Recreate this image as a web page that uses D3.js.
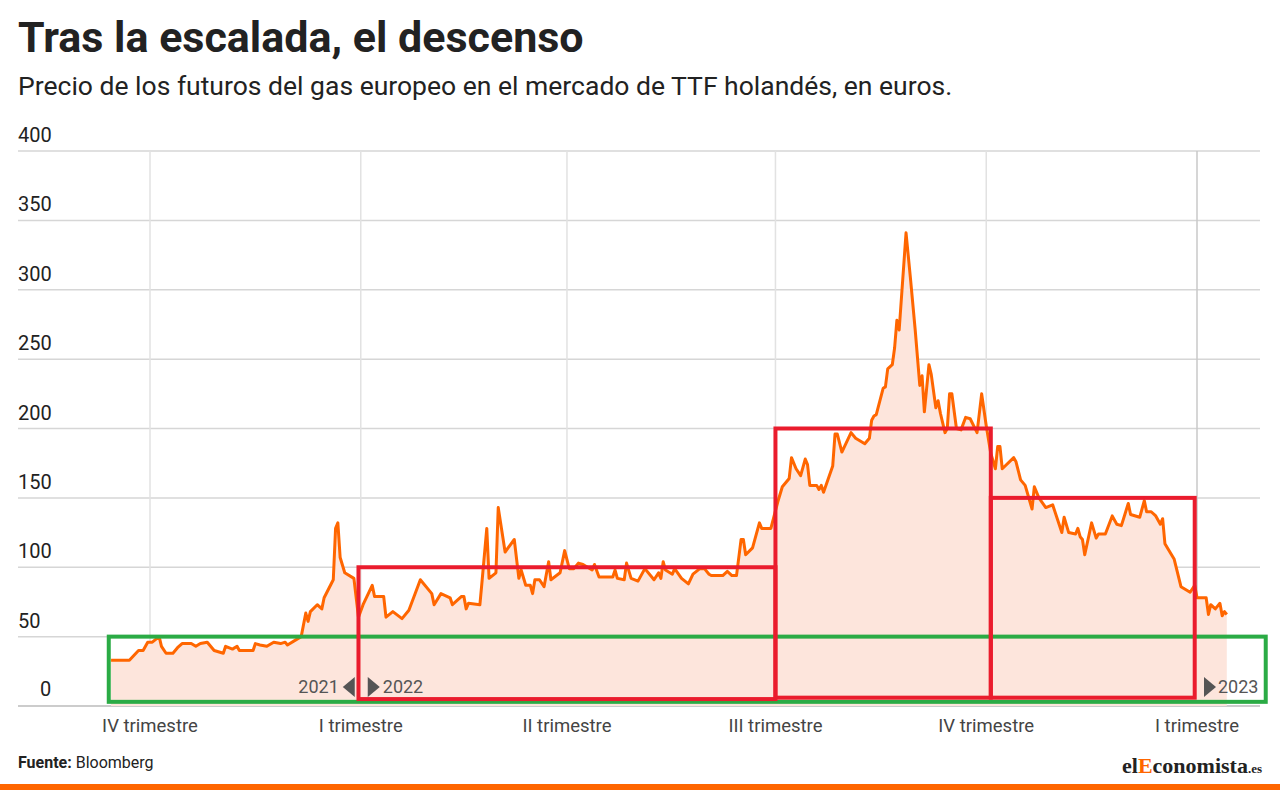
<!DOCTYPE html>
<html><head><meta charset="utf-8">
<script src="https://cdn.jsdelivr.net/npm/d3@7"></script>
<style>body{margin:0;background:#fff;font-family:Roboto,sans-serif}</style>
</head><body><svg id="c" width="1280" height="790"></svg>
<script>
const startDate = new Date(2021, 9, 1);
const dayOffsets = [-17,-9,-5,-3,-1,1,4,5,7,10,12,14,18,20,22,25,28,32,33,36,38,39,45,46,48,51,54,57,59,60,64,66,68,69,70,73,75,76,80,81,82,83,85,89,91,93,97,98,102,103,106,110,113,118,123,124,127,131,132,136,137,138,139,144,145,147,148,151,152,155,159,161,162,164,166,167,168,170,172,174,175,179,181,183,185,187,189,193,194,196,202,203,204,207,208,210,213,216,220,222,223,224,225,228,229,232,235,237,240,242,244,245,250,252,254,256,258,259,260,263,266,267,271,274,276,279,280,282,284,286,287,288,291,292,293,294,298,299,300,302,306,308,312,314,315,316,317,320,321,322,324,325,326,327,330,332,334,336,337,338,340,341,343,344,345,347,348,349,350,352,354,356,358,361,363,365,367,369,370,371,372,377,378,380,382,385,386,388,391,394,398,399,401,404,405,406,407,408,411,413,414,417,420,422,424,427,428,432,434,435,437,439,441,442,443,447,450,454,456,457,461,462,463,465,467,468,469,470];
const prices = [33,33,40,40,46,46,50,43,38,38,42,45,45,43,45,46,40,38,43,41,43,40,40,45,44,43,46,45,46,44,48,50,67,61,68,73,70,78,91,128,132,107,96,92,64,73,87,79,79,64,68,63,69,91,81,73,81,78,73,79,79,70,74,73,91,128,92,96,143,111,120,92,98,87,87,81,91,91,86,104,91,96,112,99,99,103,102,98,102,93,93,98,92,91,103,92,90,99,91,96,92,104,98,95,99,92,88,95,99,99,95,94,94,97,94,94,120,120,109,114,132,128,128,147,158,164,179,171,166,178,174,159,159,156,159,154,173,196,196,183,197,193,189,193,206,209,210,229,230,243,246,258,278,271,341,307,271,231,238,212,246,239,215,220,211,197,200,225,225,200,199,208,207,197,225,202,182,171,187,187,171,179,176,163,159,142,158,150,143,145,125,136,125,124,128,122,120,109,132,121,124,124,137,131,130,146,138,136,148,140,140,137,131,135,117,106,86,82,87,78,78,66,73,70,74,65,68,66];
const yTicks = [0,50,100,150,200,250,300,350,400];
const quarterLabels = ["IV trimestre","I trimestre","II trimestre","III trimestre","IV trimestre","I trimestre"];
const quarterStarts = ["2021-10-01","2022-01-01","2022-04-01","2022-07-01","2022-10-01","2023-01-01"];
// highlight boxes: [startOffset, endOffset, low, high, colour]
const boxStart = [-18, 91, 273, 367];
const boxEnd = [487, 273, 367, 456];
const boxLow = [3, 5, 6, 6];
const boxHigh = [50, 100, 200, 150];
const boxColor = ["#2bab45","#ea1c2d","#ea1c2d","#ea1c2d"];

const svg = d3.select("#c");
const parse = d3.timeParse("%Y-%m-%d");
const x = d3.scaleTime().domain([parse(quarterStarts[0]), parse(quarterStarts[5])]).range([150, 1197]);
const y = d3.scaleLinear().domain([0,400]).range([706,151]);
const dt = o => d3.timeDay.offset(startDate, o);
const data = dayOffsets.map((o,i)=>({d:dt(o), v:prices[i]}));

svg.append("text").attr("x",18).attr("y",52).attr("font-size",43).attr("font-weight",700).attr("fill","#222").text("Tras la escalada, el descenso");
svg.append("text").attr("x",18).attr("y",95).attr("font-size",26.5).attr("fill","#222").text("Precio de los futuros del gas europeo en el mercado de TTF holandés, en euros.");

// grid
yTicks.forEach(t=>{
  svg.append("line").attr("x1",18).attr("x2",1260).attr("y1",y(t)).attr("y2",y(t)).attr("stroke", t===0?"#bbb":"#d6d6d6").attr("stroke-width",1.5);
  svg.append("text").attr("x",t===0?40:18).attr("y",y(t)-(t===0?10:9)).attr("font-size",20).attr("fill","#222").text(t);
});
quarterStarts.forEach((q,i)=>{
  const xx = x(parse(q));
  svg.append("line").attr("x1",xx).attr("x2",xx).attr("y1",151).attr("y2",706).attr("stroke",i===5?"#c8c8c8":"#e2e2e2").attr("stroke-width",1.5);
  svg.append("text").attr("x",xx).attr("y",732).attr("text-anchor","middle").attr("font-size",18.5).attr("fill","#444").text(quarterLabels[i]);
});

svg.append("path").datum(data).attr("fill","#fde5dc")
  .attr("d", d3.area().x(d=>x(d.d)).y0(y(0)).y1(d=>y(d.v)));
svg.append("path").datum(data).attr("fill","none").attr("stroke","#ff6600").attr("stroke-width",3).attr("stroke-linejoin","round")
  .attr("d", d3.line().x(d=>x(d.d)).y(d=>y(d.v)));

// year markers
const g = svg.append("g").attr("font-size",18).attr("fill","#555");
const x22 = x(parse("2022-01-01")), x23 = x(parse("2023-01-01"));
g.append("text").attr("x",x22-22).attr("y",693).attr("text-anchor","end").text("2021");
g.append("path").attr("d",`M${x22-6},677 L${x22-6},697 L${x22-18},687 Z`).attr("fill","#555");
g.append("path").attr("d",`M${x22+7},677 L${x22+7},697 L${x22+19},687 Z`).attr("fill","#555");
g.append("text").attr("x",x22+22).attr("y",693).text("2022");
g.append("path").attr("d",`M${x23+7},677 L${x23+7},697 L${x23+19},687 Z`).attr("fill","#555");
g.append("text").attr("x",x23+21).attr("y",693).text("2023");

boxStart.forEach((s,i)=>{
  const x0=x(dt(s)), x1=x(dt(boxEnd[i]));
  svg.append("rect").attr("x",x0).attr("y",y(boxHigh[i])).attr("width",x1-x0).attr("height",y(boxLow[i])-y(boxHigh[i]))
    .attr("fill","none").attr("stroke",boxColor[i]).attr("stroke-width",4);
});

svg.append("text").attr("x",18).attr("y",768).attr("font-size",16).attr("fill","#222")
  .html('<tspan font-weight="700">Fuente:</tspan> Bloomberg');
const lg = svg.append("text").attr("x",1262).attr("y",773).attr("text-anchor","end").attr("font-family","Liberation Serif, serif").attr("font-weight",700).attr("font-size",22).attr("fill","#222");
lg.append("tspan").text("el");
lg.append("tspan").attr("fill","#ff6600").text("E");
lg.append("tspan").text("conomista");
lg.append("tspan").attr("font-size",13).text(".es");
svg.append("rect").attr("x",0).attr("y",784).attr("width",1280).attr("height",6).attr("fill","#ff6600");
</script></body></html>
